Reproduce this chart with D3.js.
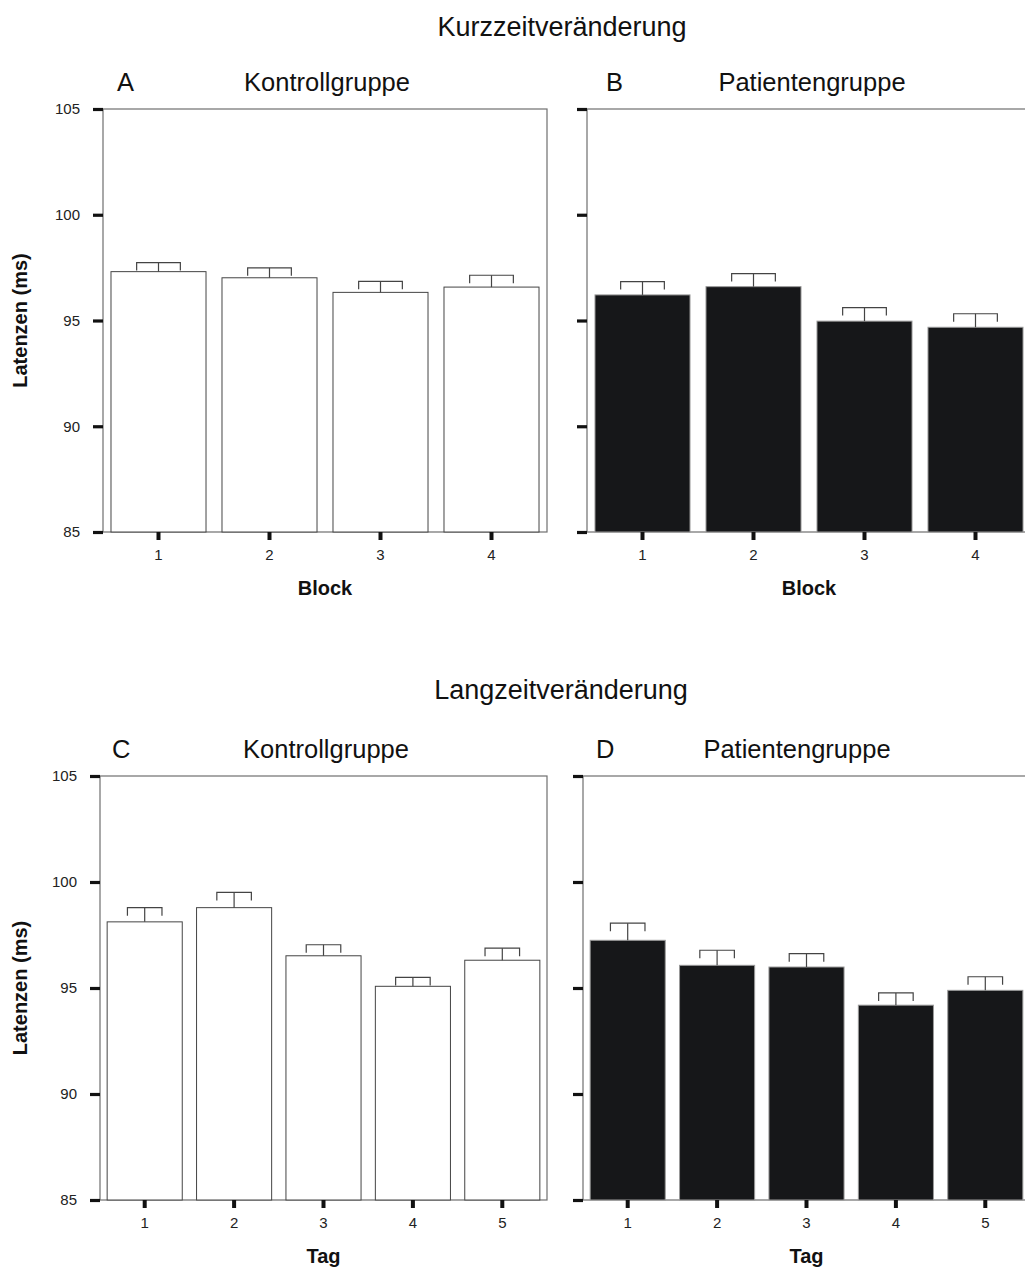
<!DOCTYPE html>
<html>
<head>
<meta charset="utf-8">
<script src="https://cdn.jsdelivr.net/npm/d3@7"></script>
<style>
  body { margin: 0; background: #fff; }
  svg { display: block; font-family: "Liberation Sans", Arial, sans-serif; }
</style>
</head>
<body>
<svg id="chart" width="1025" height="1267"></svg>
<script>
// data
var blocks = ["1", "2", "3", "4"];
var tage = ["1", "2", "3", "4", "5"];
var yTicks = [85, 90, 95, 100, 105];

var kontrollBlockMean = [97.31, 97.02, 96.33, 96.58];
var kontrollBlockSE = [0.43, 0.47, 0.52, 0.56];
var patientBlockMean = [96.21, 96.60, 94.97, 94.68];
var patientBlockSE = [0.63, 0.62, 0.64, 0.64];

var kontrollTagMean = [98.12, 98.79, 96.52, 95.08, 96.31];
var kontrollTagSE = [0.67, 0.72, 0.52, 0.42, 0.57];
var patientTagMean = [97.25, 96.07, 95.99, 94.19, 94.89];
var patientTagSE = [0.81, 0.71, 0.63, 0.58, 0.64];

var svg = d3.select("#chart");

var panels = [
  { letter: "A", title: "Kontrollgruppe", cats: blocks, mean: kontrollBlockMean, se: kontrollBlockSE,
    dark: false, x0: 103, x1: 547, y0: 109, y1: 532, xlabel: "Block", labels: true, letterX: 117, titleX: 327, pad: 0.144 },
  { letter: "B", title: "Patientengruppe", cats: blocks, mean: patientBlockMean, se: patientBlockSE,
    dark: true, x0: 587, x1: 1031, y0: 109, y1: 532, xlabel: "Block", labels: false, letterX: 606, titleX: 812, pad: 0.144 },
  { letter: "C", title: "Kontrollgruppe", cats: tage, mean: kontrollTagMean, se: kontrollTagSE,
    dark: false, x0: 100, x1: 547, y0: 776, y1: 1200, xlabel: "Tag", labels: true, letterX: 112, titleX: 326, pad: 0.16 },
  { letter: "D", title: "Patientengruppe", cats: tage, mean: patientTagMean, se: patientTagSE,
    dark: true, x0: 583, x1: 1030, y0: 776, y1: 1200, xlabel: "Tag", labels: false, letterX: 596, titleX: 797, pad: 0.16 }
];

// super titles
svg.append("text").attr("x", 562).attr("y", 36).attr("text-anchor", "middle")
  .attr("font-size", 27).attr("fill", "#111").text("Kurzzeitveränderung");
svg.append("text").attr("x", 561).attr("y", 699).attr("text-anchor", "middle")
  .attr("font-size", 27).attr("fill", "#111").text("Langzeitveränderung");

panels.forEach(function(p) {
  var x = d3.scaleBand().domain(p.cats).range([p.x0, p.x1])
    .paddingInner(p.pad).paddingOuter(p.pad / 2);
  var y = d3.scaleLinear().domain([85, 105]).range([p.y1, p.y0]);
  var g = svg.append("g");
  var rows = p.cats.map(function(c, i) { return { cat: c, mean: p.mean[i], se: p.se[i] }; });

  // frame
  g.append("rect").attr("x", p.x0).attr("y", p.y0)
    .attr("width", p.x1 - p.x0).attr("height", p.y1 - p.y0)
    .attr("fill", "none").attr("stroke", "#6f6f6f").attr("stroke-width", 1.2);

  // bars
  g.selectAll("rect.bar").data(rows).enter().append("rect").attr("class", "bar")
    .attr("x", function(d) { return x(d.cat); })
    .attr("y", function(d) { return y(d.mean); })
    .attr("width", x.bandwidth())
    .attr("height", function(d) { return y(85) - y(d.mean); })
    .attr("fill", p.dark ? "#161719" : "#fff")
    .attr("stroke", p.dark ? "#9a9a9a" : "#444")
    .attr("stroke-width", 1);

  // error bars (upper only)
  var capW = x.bandwidth() * 0.46;
  var eb = g.selectAll("g.err").data(rows).enter().append("g").attr("class", "err")
    .attr("fill", "none").attr("stroke", "#444").attr("stroke-width", 1.2);
  eb.append("line")
    .attr("x1", function(d) { return x(d.cat) + x.bandwidth() / 2; })
    .attr("x2", function(d) { return x(d.cat) + x.bandwidth() / 2; })
    .attr("y1", function(d) { return y(d.mean); })
    .attr("y2", function(d) { return y(d.mean + d.se); });
  eb.append("path")
    .attr("d", function(d) {
      var cx = x(d.cat) + x.bandwidth() / 2, ty = y(d.mean + d.se);
      return "M" + (cx - capW / 2) + "," + (ty + 8) + "V" + ty + "H" + (cx + capW / 2) + "V" + (ty + 8);
    });

  // y axis
  var yAxis = d3.axisLeft(y).tickValues(yTicks).tickSize(10).tickPadding(13);
  if (!p.labels) yAxis.tickFormat("");
  var ya = g.append("g").attr("transform", "translate(" + p.x0 + ",0)").call(yAxis);
  ya.select(".domain").remove();
  ya.selectAll(".tick line").attr("stroke", "#111").attr("stroke-width", 3.2);
  ya.selectAll(".tick text").attr("font-size", 15).attr("fill", "#222")
    .attr("font-family", "Liberation Sans, Arial, sans-serif");

  // x axis
  var xAxis = d3.axisBottom(x).tickSize(8).tickPadding(9);
  var xa = g.append("g").attr("transform", "translate(0," + p.y1 + ")").call(xAxis);
  xa.select(".domain").remove();
  xa.selectAll(".tick line").attr("stroke", "#111").attr("stroke-width", 4);
  xa.selectAll(".tick text").attr("font-size", 15).attr("fill", "#222")
    .attr("font-family", "Liberation Sans, Arial, sans-serif");

  // labels
  var cx = (p.x0 + p.x1) / 2;
  g.append("text").attr("x", p.letterX).attr("y", p.y0 - 18)
    .attr("font-size", 25.5).attr("fill", "#111").text(p.letter);
  g.append("text").attr("x", p.titleX).attr("y", p.y0 - 18).attr("text-anchor", "middle")
    .attr("font-size", 25.5).attr("fill", "#111").text(p.title);
  g.append("text").attr("x", cx).attr("y", p.y1 + 63).attr("text-anchor", "middle")
    .attr("font-size", 20).attr("font-weight", "bold").attr("fill", "#111").text(p.xlabel);
  if (p.labels) {
    g.append("text")
      .attr("transform", "translate(27," + ((p.y0 + p.y1) / 2) + ") rotate(-90)")
      .attr("text-anchor", "middle").attr("font-size", 20).attr("font-weight", "bold")
      .attr("fill", "#111").text("Latenzen (ms)");
  }
});
</script>
</body>
</html>
